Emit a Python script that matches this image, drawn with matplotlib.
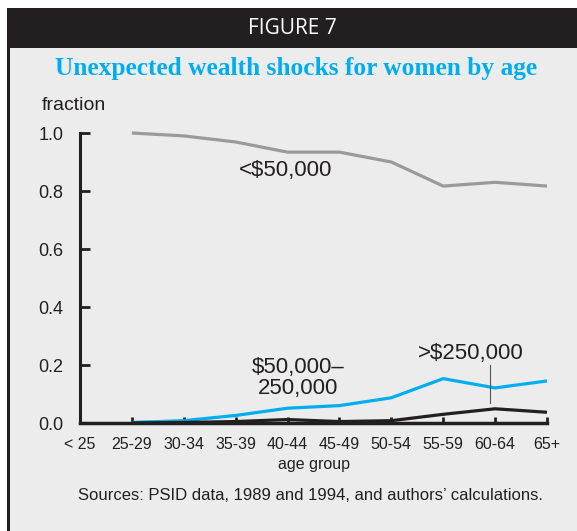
import matplotlib
matplotlib.use("Agg")
import matplotlib.pyplot as plt
from matplotlib.patches import Rectangle

# ---- data ----
age_groups = ["< 25", "25-29", "30-34", "35-39", "40-44", "45-49",
              "50-54", "55-59", "60-64", "65+"]
under_50k = [None, 1.0, 0.99, 0.969, 0.934, 0.934, 0.90, 0.817, 0.83, 0.817]
mid_50k_250k = [None, 0.002, 0.008, 0.026, 0.051, 0.060, 0.087, 0.153, 0.121, 0.145]
over_250k = [None, 0.0, 0.002, 0.005, 0.012, 0.005, 0.008, 0.030, 0.049, 0.037]
y_ticks = [0.0, 0.2, 0.4, 0.6, 0.8, 1.0]

plt.rcParams["font.family"] = ["Liberation Sans", "DejaVu Sans"]

W, H = 577, 531
fig = plt.figure(figsize=(W / 100, H / 100), dpi=100, facecolor="white")

# frame: gray panel, dark header band, left border
fig.patches.append(Rectangle((7 / W, 0), 1 - 7 / W, 1 - 47 / H, transform=fig.transFigure,
                             facecolor="#ececec", edgecolor="none", zorder=-3))
fig.patches.append(Rectangle((7 / W, 1 - 48 / H), 1 - 7 / W, 40 / H, transform=fig.transFigure,
                             facecolor="#231f20", edgecolor="none", zorder=-2))
fig.patches.append(Rectangle((7 / W, 0), 2.5 / W, 1 - 47 / H, transform=fig.transFigure,
                             facecolor="#231f20", edgecolor="none", zorder=-2))

fig.text(292 / W, 1 - 28 / H, "FIGURE 7", color="white", fontsize=15,
         family="Open Sans", ha="center", va="center")
fig.text(296 / W, 1 - 68 / H, "Unexpected wealth shocks for women by age",
         color="#00aeef", fontsize=18.3, family="Liberation Serif", weight="bold",
         ha="center", va="center")

ax = fig.add_axes([80 / W, 1 - 423 / H, (547 - 80) / W, (423 - 133) / H])
ax.set_facecolor("none")
ax.set_zorder(5)

x = list(range(len(age_groups)))
xs = x[1:]
ax.plot(xs, under_50k[1:], color="#9a9a9a", lw=2.3, clip_on=False, solid_capstyle="butt")
ax.plot(xs, mid_50k_250k[1:], color="#00aeef", lw=2.3, clip_on=False, solid_capstyle="butt")
ax.plot(xs, over_250k[1:], color="#231f20", lw=2.3, clip_on=False, solid_capstyle="butt")

ax.set_xlim(0, 9)
ax.set_ylim(0, 1.0)
for s in ["top", "right"]:
    ax.spines[s].set_visible(False)
ax.spines["left"].set_linewidth(2.2)
ax.spines["bottom"].set_linewidth(2.5)
ax.spines["left"].set_color("#231f20")
ax.spines["bottom"].set_color("#231f20")

ax.set_yticks(y_ticks)
ax.set_yticklabels([f"{v:.1f}" for v in y_ticks], fontsize=13, color="#231f20")
ax.set_xticks(x)
ax.set_xticklabels(age_groups, fontsize=11.5, color="#231f20")
ax.tick_params(axis="y", direction="in", length=7, width=2, pad=12, color="#231f20")
ax.tick_params(axis="x", direction="in", length=4, width=2, pad=10, color="#231f20")
ax.set_xlabel("age group", fontsize=11.5, color="#231f20", labelpad=4)
ax.text(-0.081, 1.095, "fraction", transform=ax.transAxes, fontsize=14,
        color="#231f20", ha="left", va="center")

# series labels
ax.text(3.97, 0.872, "<$50,000", fontsize=16, color="#231f20", ha="center", va="center")
ax.text(4.2, 0.155, "$50,000\u2013\n250,000", fontsize=16, color="#231f20",
        ha="center", va="center", linespacing=0.95)
ax.text(7.53, 0.241, ">$250,000", fontsize=16, color="#231f20", ha="center", va="center")
ax.plot([7.9, 7.9], [0.07, 0.2], color="#555555", lw=0.8)

fig.text(310 / W, 1 - 495 / H, "Sources: PSID data, 1989 and 1994, and authors\u2019 calculations.",
         fontsize=12, color="#231f20", ha="center", va="center")

fig.savefig("out.png", dpi=100, facecolor=fig.get_facecolor())
